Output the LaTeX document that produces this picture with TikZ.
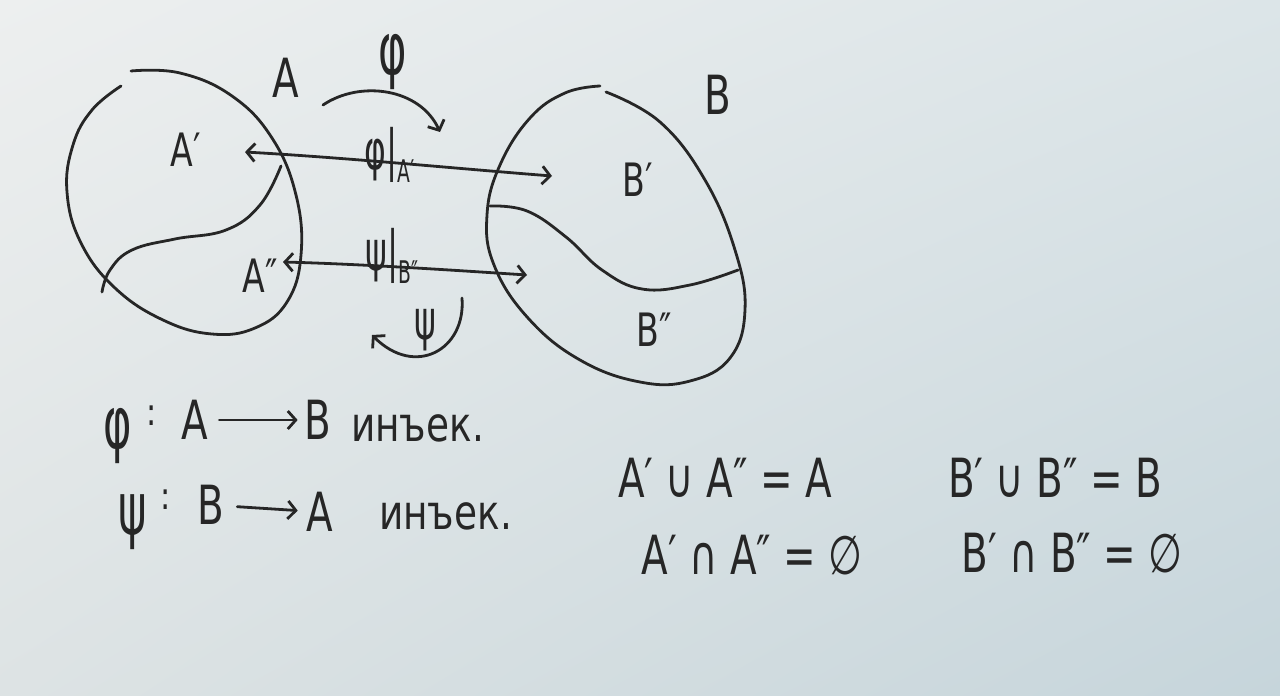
\documentclass[tikz,border=0pt]{standalone}
\usepackage{fontspec}
\setmainfont{DejaVu Sans}
\usetikzlibrary{arrows.meta,shadings}
\definecolor{ink}{HTML}{262626}
\definecolor{bgUL}{HTML}{EDEFEF}
\definecolor{bgUR}{HTML}{DCE5E8}
\definecolor{bgLL}{HTML}{DDE3E4}
\definecolor{bgLR}{HTML}{C6D5DB}
\begin{document}
\begin{tikzpicture}[x=1pt,y=-1pt,line width=2.8pt,ink,
  hand/.style={text=ink,inner sep=0pt,xscale=0.72,font=\fontsize{54}{60}\selectfont},
  greek/.style={text=ink,inner sep=0pt,xscale=0.8,yscale=1.35,font=\fontsize{54}{60}\selectfont},
  lab/.style={text=ink,inner sep=0pt,xscale=0.72,font=\fontsize{46}{52}\selectfont},
  sml/.style={text=ink,inner sep=0pt,xscale=0.8,font=\fontsize{38}{44}\selectfont},
  word/.style={text=ink,inner sep=0pt,xscale=0.78,font=\fontsize{48}{52}\selectfont},
  barb/.style={-{Straight Barb[length=8pt,width=18pt]}},
  dbarb/.style={{Straight Barb[length=8pt,width=18pt]}-{Straight Barb[length=8pt,width=18pt]}},
  curve/.style={line width=2.8pt,line cap=round}]
\shade[upper left=bgUL,upper right=bgUR,lower left=bgLL,lower right=bgLR]
  (0,0) rectangle (1280,696);
\useasboundingbox (0,0) rectangle (1280,696);

% set A
\draw[curve] plot[smooth,tension=0.7] coordinates {(131,71) (180,73) (232,96) (272,138) (296,195) (301,255) (287,302) (255,328) (212,334) (163,320) (115,288) (81,243) (67,192) (73,145) (92,110) (121,86)};
\draw[curve] plot[smooth,tension=0.7] coordinates {(281,166) (260,205) (226,230) (175,239) (132,250) (110,270) (102,292)};
% set B
\draw[curve] plot[smooth,tension=0.7] coordinates {(606,92) (660,122) (705,180) (735,250) (745,310) (730,358) (690,381) (640,382) (580,360) (528,318) (494,265) (487,215) (500,165) (530,118) (565,93) (600,86)};
\draw[curve] plot[smooth,tension=0.7] coordinates {(490,206) (527,211) (566,237) (602,270) (642,289) (690,285) (738,270)};

% labels in sets
\node[lab] (Ap) at (186,150) {A′};
\node[lab] (App) at (260,276) {A″};
\node[lab] (Bp) at (638,180) {B′};
\node[lab] (Bpp) at (654,330) {B″};
\node[hand] (A) at (286,78) {A};
\node[hand] (B) at (718,95) {B};

% top phi arrow
\node[greek] (phi) at (393,62) {φ};
\coordinate (phiS) at (323,105);
\coordinate (phiE) at (440,132);
\draw[curve,barb] (phiS) .. controls (360,80) and (420,88) .. (phiE);

% restriction arrows
\coordinate (a1) at (245,152);
\coordinate (b1) at (552,176);
\draw[curve,dbarb] (a1) .. controls (350,158) and (450,168) .. (b1);
\node[lab,yscale=1.2] (phiA) at (390,155) {φ|\raisebox{-0.45ex}{\fontsize{26}{28}\selectfont A′}};
\coordinate (a2) at (283,262);
\coordinate (b2) at (527,275);
\draw[curve,dbarb] (a2) .. controls (360,264) and (450,270) .. (b2);
\node[lab,yscale=1.2] (psiB) at (392,256) {ψ|\raisebox{-0.45ex}{\fontsize{26}{28}\selectfont B″}};

% bottom psi arrow
\coordinate (psiS) at (462,298);
\coordinate (psiE) at (372,335);
\draw[curve,barb] (psiS) .. controls (466,350) and (415,378) .. (psiE);
\node[lab,yscale=1.2] (psi) at (425,330) {ψ};

% definitions
\node[greek] (f1) at (118,436) {φ};
\node[sml] (c1) at (152,416) {:};
\node[hand] (x1) at (195,420) {A};
\node[hand] (y1) at (318,420) {B};
\draw[curve,barb,shorten <=10pt,shorten >=6pt] (x1) -- (y1);
\node[word,anchor=west] (w1) at (350,428) {инъек.};

\node[greek] (f2) at (133,522) {ψ};
\node[sml] (c2) at (166,500) {:};
\node[hand] (x2) at (211,505) {B};
\node[hand] (y2) at (320,512) {A};
\draw[curve,barb,shorten <=12pt,shorten >=8pt] (x2) -- (y2);
\node[word,anchor=west] (w2) at (378,516) {инъек.};

% equations
\node[hand] (e1) at (725,478) {A′ ∪ A″ = A};
\node[hand] (e2) at (752,555) {A′ ∩ A″ = ∅};
\node[hand] (e3) at (1055,478) {B′ ∪ B″ = B};
\node[hand] (e4) at (1072,553) {B′ ∩ B″ = ∅};
\end{tikzpicture}
\end{document}
